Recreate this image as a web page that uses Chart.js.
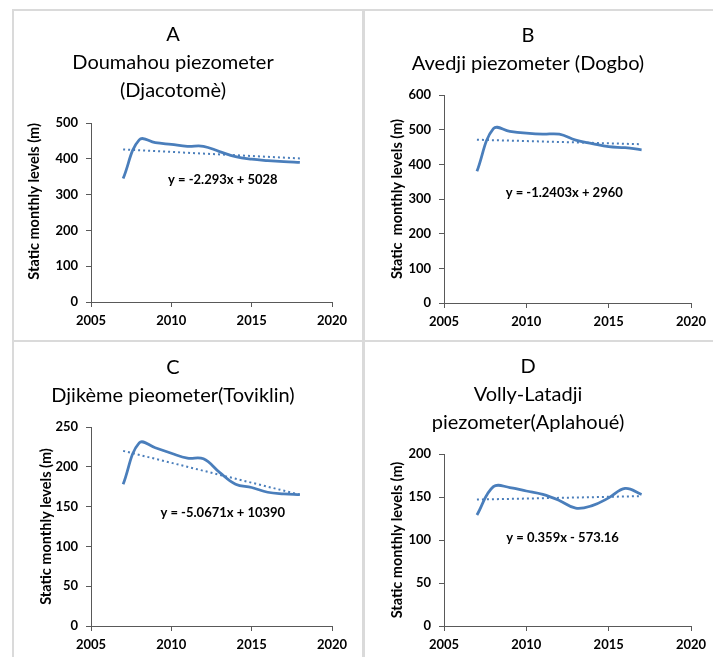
<!DOCTYPE html>
<html>
<head>
<meta charset="utf-8">
<script src="https://cdn.jsdelivr.net/npm/chart.js@4"></script>
<style>
  body { margin: 0; background: #fff; }
  #page { position: relative; width: 713px; height: 657px; overflow: hidden; }
  .rule { position: absolute; background: #dadada; }
  canvas { position: absolute; }
</style>
</head>
<body>
<div id="page">
  <div class="rule" style="left:12px; top:9px; width:701px; height:2px;"></div>
  <div class="rule" style="left:12px; top:340px; width:701px; height:2px;"></div>
  <div class="rule" style="left:12px; top:9px; width:2px; height:648px;"></div>
  <div class="rule" style="left:362px; top:9px; width:3px; height:648px;"></div>
  <canvas id="chartA" width="348" height="329" style="left:14px; top:11px;"></canvas>
  <canvas id="chartB" width="348" height="329" style="left:365px; top:11px;"></canvas>
  <canvas id="chartC" width="348" height="315" style="left:14px; top:342px;"></canvas>
  <canvas id="chartD" width="348" height="315" style="left:365px; top:342px;"></canvas>
</div>
<script>
// years of observation
const yearsLong = [2007, 2008, 2009, 2010, 2011, 2012, 2013, 2014, 2015, 2016, 2017, 2018];
const yearsShort = [2007, 2008, 2009, 2010, 2011, 2012, 2013, 2014, 2015, 2016, 2017];

// static monthly levels (m)
const levelsA = [345, 453, 445, 440, 435, 435, 420, 406, 399, 395, 392, 390];
const levelsB = [380, 503, 495, 490, 487, 487, 470, 460, 451, 448, 442];
const levelsC = [178, 230, 224, 217, 211, 210, 193, 178, 174, 168, 166, 165];
const levelsD = [129, 162, 161, 157, 153, 146, 137, 140, 149, 160, 153];

// linear trend end points
const trendA = [426, 401];
const trendB = [471, 458];
const trendC = [220, 165];
const trendD = [147, 151];

const equations = ['y = -2.293x + 5028', 'y = -1.2403x + 2960', 'y = -5.0671x + 10390', 'y = 0.359x - 573.16'];

const titles = [
  ['A', 'Doumahou piezometer', '(Djacotomè)'],
  ['B', 'Avedji piezometer (Dogbo)'],
  ['C', 'Djikème pieometer(Toviklin)'],
  ['D', 'Volly-Latadji', 'piezometer(Aplahoué)'],
];

const xTicks = [2005, 2010, 2015, 2020];

Chart.defaults.font.family = 'Lato, "Open Sans", sans-serif';
Chart.defaults.color = '#000';

const lineBlue = '#4A7EBB';
const axisGrey = '#595959';

// writes the trend equation inside the plot
const equationLabel = {
  id: 'equationLabel',
  afterDatasetsDraw(chart, args, opts) {
    const { ctx, scales: { x, y } } = chart;
    ctx.save();
    ctx.font = 'bold 13px Lato, sans-serif';
    ctx.fillStyle = '#000';
    ctx.textAlign = 'center';
    ctx.textBaseline = 'middle';
    ctx.fillText(opts.text, x.getPixelForValue(opts.x), y.getPixelForValue(opts.y));
    ctx.restore();
  }
};

function toPoints(xs, ys) {
  return ys.map((v, i) => ({ x: xs[i], y: v }));
}

function makeChart(id, o) {
  const lastYear = o.years[o.years.length - 1];
  return new Chart(document.getElementById(id), {
    type: 'line',
    data: {
      datasets: [
        {
          data: toPoints(o.years, o.levels),
          borderColor: lineBlue,
          borderWidth: 2.75,
          pointRadius: 0,
          tension: 0.4,
          fill: false,
        },
        {
          data: toPoints([o.years[0], lastYear], o.trend),
          borderColor: lineBlue,
          borderWidth: 2,
          borderDash: [2, 3],
          pointRadius: 0,
          fill: false,
        },
      ],
    },
    options: {
      responsive: false,
      animation: false,
      events: [],
      layout: { padding: { left: 0, right: o.padRight, top: 0, bottom: 0 } },
      plugins: {
        legend: { display: false },
        tooltip: { enabled: false },
        title: {
          display: true,
          text: o.title,
          font: { size: 20, weight: 'normal', lineHeight: 1.4 },
          color: '#000',
          padding: { top: o.titleTop, bottom: o.titleBottom },
        },
        equationLabel: { text: o.equation, x: o.eqX, y: o.eqY },
      },
      scales: {
        x: {
          type: 'linear',
          min: 2005,
          max: 2020,
          afterBuildTicks: (s) => { s.ticks = xTicks.map(v => ({ value: v })); },
          afterFit: (s) => { s.height = o.xHeight; },
          ticks: { font: { size: 13, weight: 'bold' }, padding: 6, maxRotation: 0, callback: (v) => String(v) },
          grid: { drawOnChartArea: false, tickLength: 5, color: axisGrey },
          border: { color: axisGrey },
        },
        y: {
          min: 0,
          max: o.yMax,
          afterFit: (s) => { s.width = o.yWidth; },
          ticks: { stepSize: o.yStep, font: { size: 13, weight: 'bold' }, padding: 8 },
          grid: { drawOnChartArea: false, tickLength: 5, color: axisGrey },
          border: { color: axisGrey },
          title: {
            display: true,
            text: o.yTitle,
            font: { size: 14.5, weight: 'bold' },
            padding: { top: o.yTitlePad },
            align: o.yTitleAlign || 'center',
          },
        },
      },
    },
    plugins: [equationLabel],
  });
}

makeChart('chartA', {
  years: yearsLong, levels: levelsA, trend: trendA, equation: equations[0], eqX: 2013.2, eqY: 341,
  title: titles[0], titleTop: 10, titleBottom: 18, yMax: 500, yStep: 100,
  yTitle: 'Static monthly levels (m)', yTitlePad: 12, yTitleAlign: 'end',
  yWidth: 77, padRight: 30, xHeight: 38,
});

makeChart('chartB', {
  years: yearsShort, levels: levelsB, trend: trendB, equation: equations[1], eqX: 2012.3, eqY: 317,
  title: titles[1], titleTop: 11, titleBottom: 17, yMax: 600, yStep: 100,
  yTitle: 'Static  monthly levels (m)', yTitlePad: 24,
  yWidth: 79, padRight: 22, xHeight: 37,
});

makeChart('chartC', {
  years: yearsLong, levels: levelsC, trend: trendC, equation: equations[2], eqX: 2013.2, eqY: 142,
  title: titles[2], titleTop: 12, titleBottom: 17, yMax: 250, yStep: 50,
  yTitle: 'Static monthly levels (m)', yTitlePad: 24,
  yWidth: 77, padRight: 30, xHeight: 31,
});

makeChart('chartD', {
  years: yearsShort, levels: levelsD, trend: trendD, equation: equations[3], eqX: 2012.2, eqY: 102,
  title: titles[3], titleTop: 11, titleBottom: 17, yMax: 200, yStep: 50,
  yTitle: 'Static monthly levels (m)', yTitlePad: 24,
  yWidth: 79, padRight: 22, xHeight: 31,
});
</script>
</body>
</html>
